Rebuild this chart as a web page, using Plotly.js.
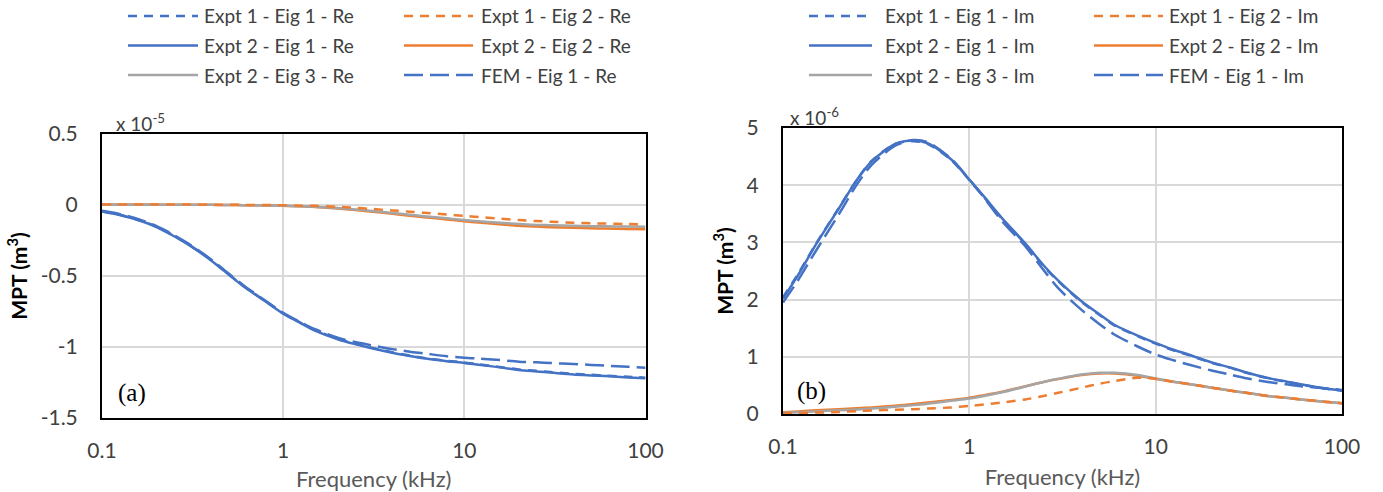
<!DOCTYPE html>
<html><head><meta charset="utf-8">
<script src="https://cdn.plot.ly/plotly-3.0.1.min.js"></script>
<style>html,body{margin:0;padding:0;background:#fff}#chart{width:1383px;height:492px}</style>
</head><body><div id="chart"></div>
<script>
// Frequencies (kHz)
const freq = [0.1, 0.12, 0.15, 0.2, 0.25, 0.3, 0.4, 0.5, 0.6, 0.8, 1, 1.2, 1.5, 2, 2.5, 3, 4, 5, 6, 8, 10, 12, 15, 20, 25, 30, 40, 50, 60, 80, 100];

// (a) Real part, units of 1e-5 m^3
const reExpt1Eig1 = [-0.043, -0.063, -0.095, -0.152, -0.217, -0.277, -0.387, -0.487, -0.567, -0.678, -0.762, -0.818, -0.882, -0.942, -0.977, -1.002, -1.037, -1.060, -1.077, -1.097, -1.109, -1.122, -1.137, -1.158, -1.168, -1.176, -1.189, -1.196, -1.201, -1.210, -1.216];
const reExpt1Eig2 = [0.004, 0.004, 0.004, 0.004, 0.003, 0.003, 0.002, 0.002, 0.001, 0.000, -0.002, -0.004, -0.006, -0.013, -0.020, -0.027, -0.038, -0.047, -0.055, -0.067, -0.077, -0.085, -0.094, -0.106, -0.113, -0.118, -0.125, -0.129, -0.131, -0.134, -0.136];
const reExpt2Eig1 = [-0.045, -0.065, -0.097, -0.155, -0.220, -0.280, -0.390, -0.490, -0.570, -0.680, -0.765, -0.820, -0.885, -0.945, -0.980, -1.005, -1.040, -1.063, -1.080, -1.100, -1.112, -1.125, -1.140, -1.162, -1.172, -1.180, -1.193, -1.200, -1.205, -1.214, -1.220];
const reExpt2Eig2 = [0.003, 0.003, 0.003, 0.003, 0.002, 0.002, 0.001, 0.000, -0.001, -0.003, -0.006, -0.009, -0.014, -0.025, -0.035, -0.045, -0.062, -0.076, -0.086, -0.102, -0.115, -0.124, -0.134, -0.146, -0.152, -0.156, -0.161, -0.164, -0.166, -0.169, -0.171];
const reExpt2Eig3 = [0.002, 0.002, 0.002, 0.002, 0.002, 0.001, 0.001, 0.000, -0.001, -0.003, -0.005, -0.008, -0.012, -0.022, -0.031, -0.040, -0.056, -0.069, -0.079, -0.094, -0.106, -0.114, -0.123, -0.134, -0.140, -0.143, -0.147, -0.149, -0.150, -0.152, -0.153];
const reFemEig1 = [-0.040, -0.058, -0.090, -0.148, -0.212, -0.272, -0.383, -0.483, -0.563, -0.675, -0.760, -0.815, -0.875, -0.935, -0.965, -0.985, -1.015, -1.033, -1.045, -1.065, -1.075, -1.082, -1.090, -1.103, -1.108, -1.113, -1.120, -1.126, -1.131, -1.139, -1.146];

// (b) Imaginary part, units of 1e-6 m^3
const imExpt1Eig1 = [2.04, 2.44, 2.97, 3.61, 4.10, 4.43, 4.72, 4.77, 4.72, 4.44, 4.09, 3.79, 3.41, 2.97, 2.59, 2.32, 1.96, 1.73, 1.55, 1.36, 1.23, 1.13, 1.03, 0.895, 0.81, 0.73, 0.625, 0.565, 0.515, 0.447, 0.408];
const imExpt1Eig2 = [0.010, 0.015, 0.025, 0.035, 0.050, 0.060, 0.075, 0.085, 0.095, 0.115, 0.140, 0.165, 0.200, 0.255, 0.315, 0.370, 0.460, 0.530, 0.575, 0.635, 0.615, 0.575, 0.525, 0.460, 0.410, 0.375, 0.315, 0.283, 0.255, 0.215, 0.190];
const imExpt2Eig1 = [2.02, 2.42, 2.96, 3.60, 4.10, 4.42, 4.72, 4.78, 4.73, 4.45, 4.10, 3.80, 3.42, 2.98, 2.60, 2.33, 1.97, 1.74, 1.56, 1.37, 1.24, 1.14, 1.04, 0.90, 0.815, 0.735, 0.63, 0.57, 0.52, 0.45, 0.41];
const imExpt2Eig2 = [0.030, 0.045, 0.065, 0.085, 0.100, 0.115, 0.145, 0.175, 0.200, 0.245, 0.285, 0.330, 0.390, 0.485, 0.560, 0.610, 0.680, 0.710, 0.710, 0.670, 0.610, 0.570, 0.525, 0.460, 0.410, 0.375, 0.315, 0.285, 0.255, 0.215, 0.190];
const imExpt2Eig3 = [0.020, 0.030, 0.045, 0.065, 0.080, 0.095, 0.125, 0.155, 0.180, 0.230, 0.270, 0.315, 0.380, 0.480, 0.560, 0.615, 0.690, 0.720, 0.720, 0.680, 0.620, 0.575, 0.525, 0.460, 0.410, 0.375, 0.315, 0.283, 0.253, 0.213, 0.188];
const imFemEig1 = [1.95, 2.33, 2.85, 3.50, 4.02, 4.36, 4.69, 4.79, 4.75, 4.46, 4.10, 3.78, 3.37, 2.93, 2.52, 2.20, 1.82, 1.57, 1.39, 1.18, 1.04, 0.955, 0.865, 0.76, 0.69, 0.63, 0.56, 0.52, 0.485, 0.45, 0.42];

// Tick labels
const xTickVals = [0.1, 1, 10, 100];
const xTickText = ['0.1', '1', '10', '100'];
const yReTickVals = [0.5, 0, -0.5, -1, -1.5];
const yReTickText = ['0.5', '0', '-0.5', '-1', '-1.5'];
const yImTickVals = [0, 1, 2, 3, 4, 5];
const yImTickText = ['0', '1', '2', '3', '4', '5'];

// Series names (legend order, row-major)
const namesRe = ['Expt 1 - Eig 1 - Re', 'Expt 1 - Eig 2 - Re', 'Expt 2 - Eig 1 - Re', 'Expt 2 - Eig 2 - Re', 'Expt 2 - Eig 3 - Re', 'FEM - Eig 1 - Re'];
const namesIm = ['Expt 1 - Eig 1 - Im', 'Expt 1 - Eig 2 - Im', 'Expt 2 - Eig 1 - Im', 'Expt 2 - Eig 2 - Im', 'Expt 2 - Eig 3 - Im', 'FEM - Eig 1 - Im'];

const BLUE = '#4472C4', ORANGE = '#ED7D31', GRAY = '#A5A5A5';
const SHORT = '9px,7px', LONG = '19px,7px';
const styles = [
  {color: BLUE, dash: SHORT},
  {color: ORANGE, dash: SHORT},
  {color: BLUE, dash: 'solid'},
  {color: ORANGE, dash: 'solid'},
  {color: GRAY, dash: 'solid'},
  {color: BLUE, dash: LONG}
];
const LW = 2.5;

const reData = [reExpt1Eig1, reExpt1Eig2, reExpt2Eig1, reExpt2Eig2, reExpt2Eig3, reFemEig1];
const imData = [imExpt1Eig1, imExpt1Eig2, imExpt2Eig1, imExpt2Eig2, imExpt2Eig3, imFemEig1];
const drawOrder = [3, 4, 1, 2, 0, 5];

const traces = [];
drawOrder.forEach(i => {
  traces.push({x: freq, y: reData[i], name: namesRe[i], type: 'scatter', mode: 'lines',
    xaxis: 'x', yaxis: 'y', showlegend: false,
    line: {color: styles[i].color, dash: styles[i].dash, width: LW, shape: 'spline', smoothing: 0.8}});
});
drawOrder.forEach(i => {
  traces.push({x: freq, y: imData[i], name: namesIm[i], type: 'scatter', mode: 'lines',
    xaxis: 'x2', yaxis: 'y2', showlegend: false,
    line: {color: styles[i].color, dash: styles[i].dash, width: LW, shape: 'spline', smoothing: 0.8}});
});

// Geometry helpers (pixel -> paper)
const W = 1383, H = 492;
const M = {l: 102, r: 41, t: 128, b: 74};
const PW = W - M.l - M.r, PH = H - M.t - M.b;
const px = v => (v - M.l) / PW;
const py = v => (H - M.b - v) / PH;

const FONT = 'Lato, "Open Sans", sans-serif';
const TXT = '#404040';

const axCommon = {
  showline: true, linecolor: '#000', linewidth: 2, mirror: true,
  showgrid: true, gridcolor: '#D9D9D9', gridwidth: 2, zeroline: false,
  ticks: '', tickfont: {family: FONT, size: 21, color: TXT}, fixedrange: true
};

const shapes = [], annotations = [];
function addLegend(names, colX, rowsY) {
  names.forEach((n, i) => {
    const c = i % 2, r = Math.floor(i / 2);
    const cx = colX[c];
    shapes.push({type: 'line', xref: 'paper', yref: 'paper',
      x0: px(cx.l0), x1: px(cx.l1), y0: py(rowsY[r]), y1: py(rowsY[r]),
      line: {color: styles[i].color, dash: styles[i].dash, width: LW}});
    annotations.push({xref: 'paper', yref: 'paper', x: px(cx.t), y: py(rowsY[r]),
      xanchor: 'left', yanchor: 'middle', showarrow: false, text: n,
      font: {family: FONT, size: 19, color: TXT}});
  });
}
const rowsY = [16, 45.5, 75];
addLegend(namesRe, [{l0: 128, l1: 198, t: 202}, {l0: 404, l1: 473, t: 479}], rowsY);
addLegend(namesIm, [{l0: 809, l1: 872, t: 883}, {l0: 1094, l1: 1163, t: 1167}], rowsY);

annotations.push({xref: 'paper', yref: 'paper', x: px(114), y: py(137), xanchor: 'left', yanchor: 'bottom',
  showarrow: false, text: 'x 10<sup>-5</sup>', font: {family: FONT, size: 19, color: TXT}});
annotations.push({xref: 'paper', yref: 'paper', x: px(788), y: py(131), xanchor: 'left', yanchor: 'bottom',
  showarrow: false, text: 'x 10<sup>-6</sup>', font: {family: FONT, size: 19, color: TXT}});
annotations.push({xref: 'paper', yref: 'paper', x: px(116), y: py(393), xanchor: 'left', yanchor: 'middle',
  showarrow: false, text: '(a)', font: {family: '"Liberation Serif", "DejaVu Serif", serif', size: 25, color: '#000'}});
annotations.push({xref: 'paper', yref: 'paper', x: px(795), y: py(391), xanchor: 'left', yanchor: 'middle',
  showarrow: false, text: '(b)', font: {family: '"Liberation Serif", "DejaVu Serif", serif', size: 25, color: '#000'}});

const yTitle = {text: '<b>MPT (m<sup>3</sup>)</b>', font: {family: FONT, size: 21, color: '#000'}, standoff: 7};
const xTitle = {text: 'Frequency (kHz)', font: {family: FONT, size: 22, color: '#595959'}, standoff: 12};

const layout = {
  width: W, height: H, margin: M, paper_bgcolor: '#fff', plot_bgcolor: '#fff',
  showlegend: false,
  xaxis: Object.assign({}, axCommon, {type: 'log', range: [-1, 2], domain: [0, px(645.5)],
    tickvals: xTickVals, ticktext: xTickText, ticklabelstandoff: 13, title: xTitle, anchor: 'y'}),
  yaxis: Object.assign({}, axCommon, {range: [-1.5, 0.5], domain: [0, py(134)],
    tickvals: yReTickVals, ticktext: yReTickText, ticklabelstandoff: 18, title: yTitle, anchor: 'x'}),
  xaxis2: Object.assign({}, axCommon, {type: 'log', range: [-1, 2], domain: [px(783), 1],
    tickvals: xTickVals, ticktext: xTickText, ticklabelstandoff: 13, title: xTitle, anchor: 'y2'}),
  yaxis2: Object.assign({}, axCommon, {range: [0, 5], domain: [py(414), py(128)],
    tickvals: yImTickVals, ticktext: yImTickText, ticklabelstandoff: 18, title: yTitle, anchor: 'x2'}),
  shapes: shapes, annotations: annotations
};

Plotly.newPlot('chart', traces, layout, {displayModeBar: false, staticPlot: true});
</script></body></html>
